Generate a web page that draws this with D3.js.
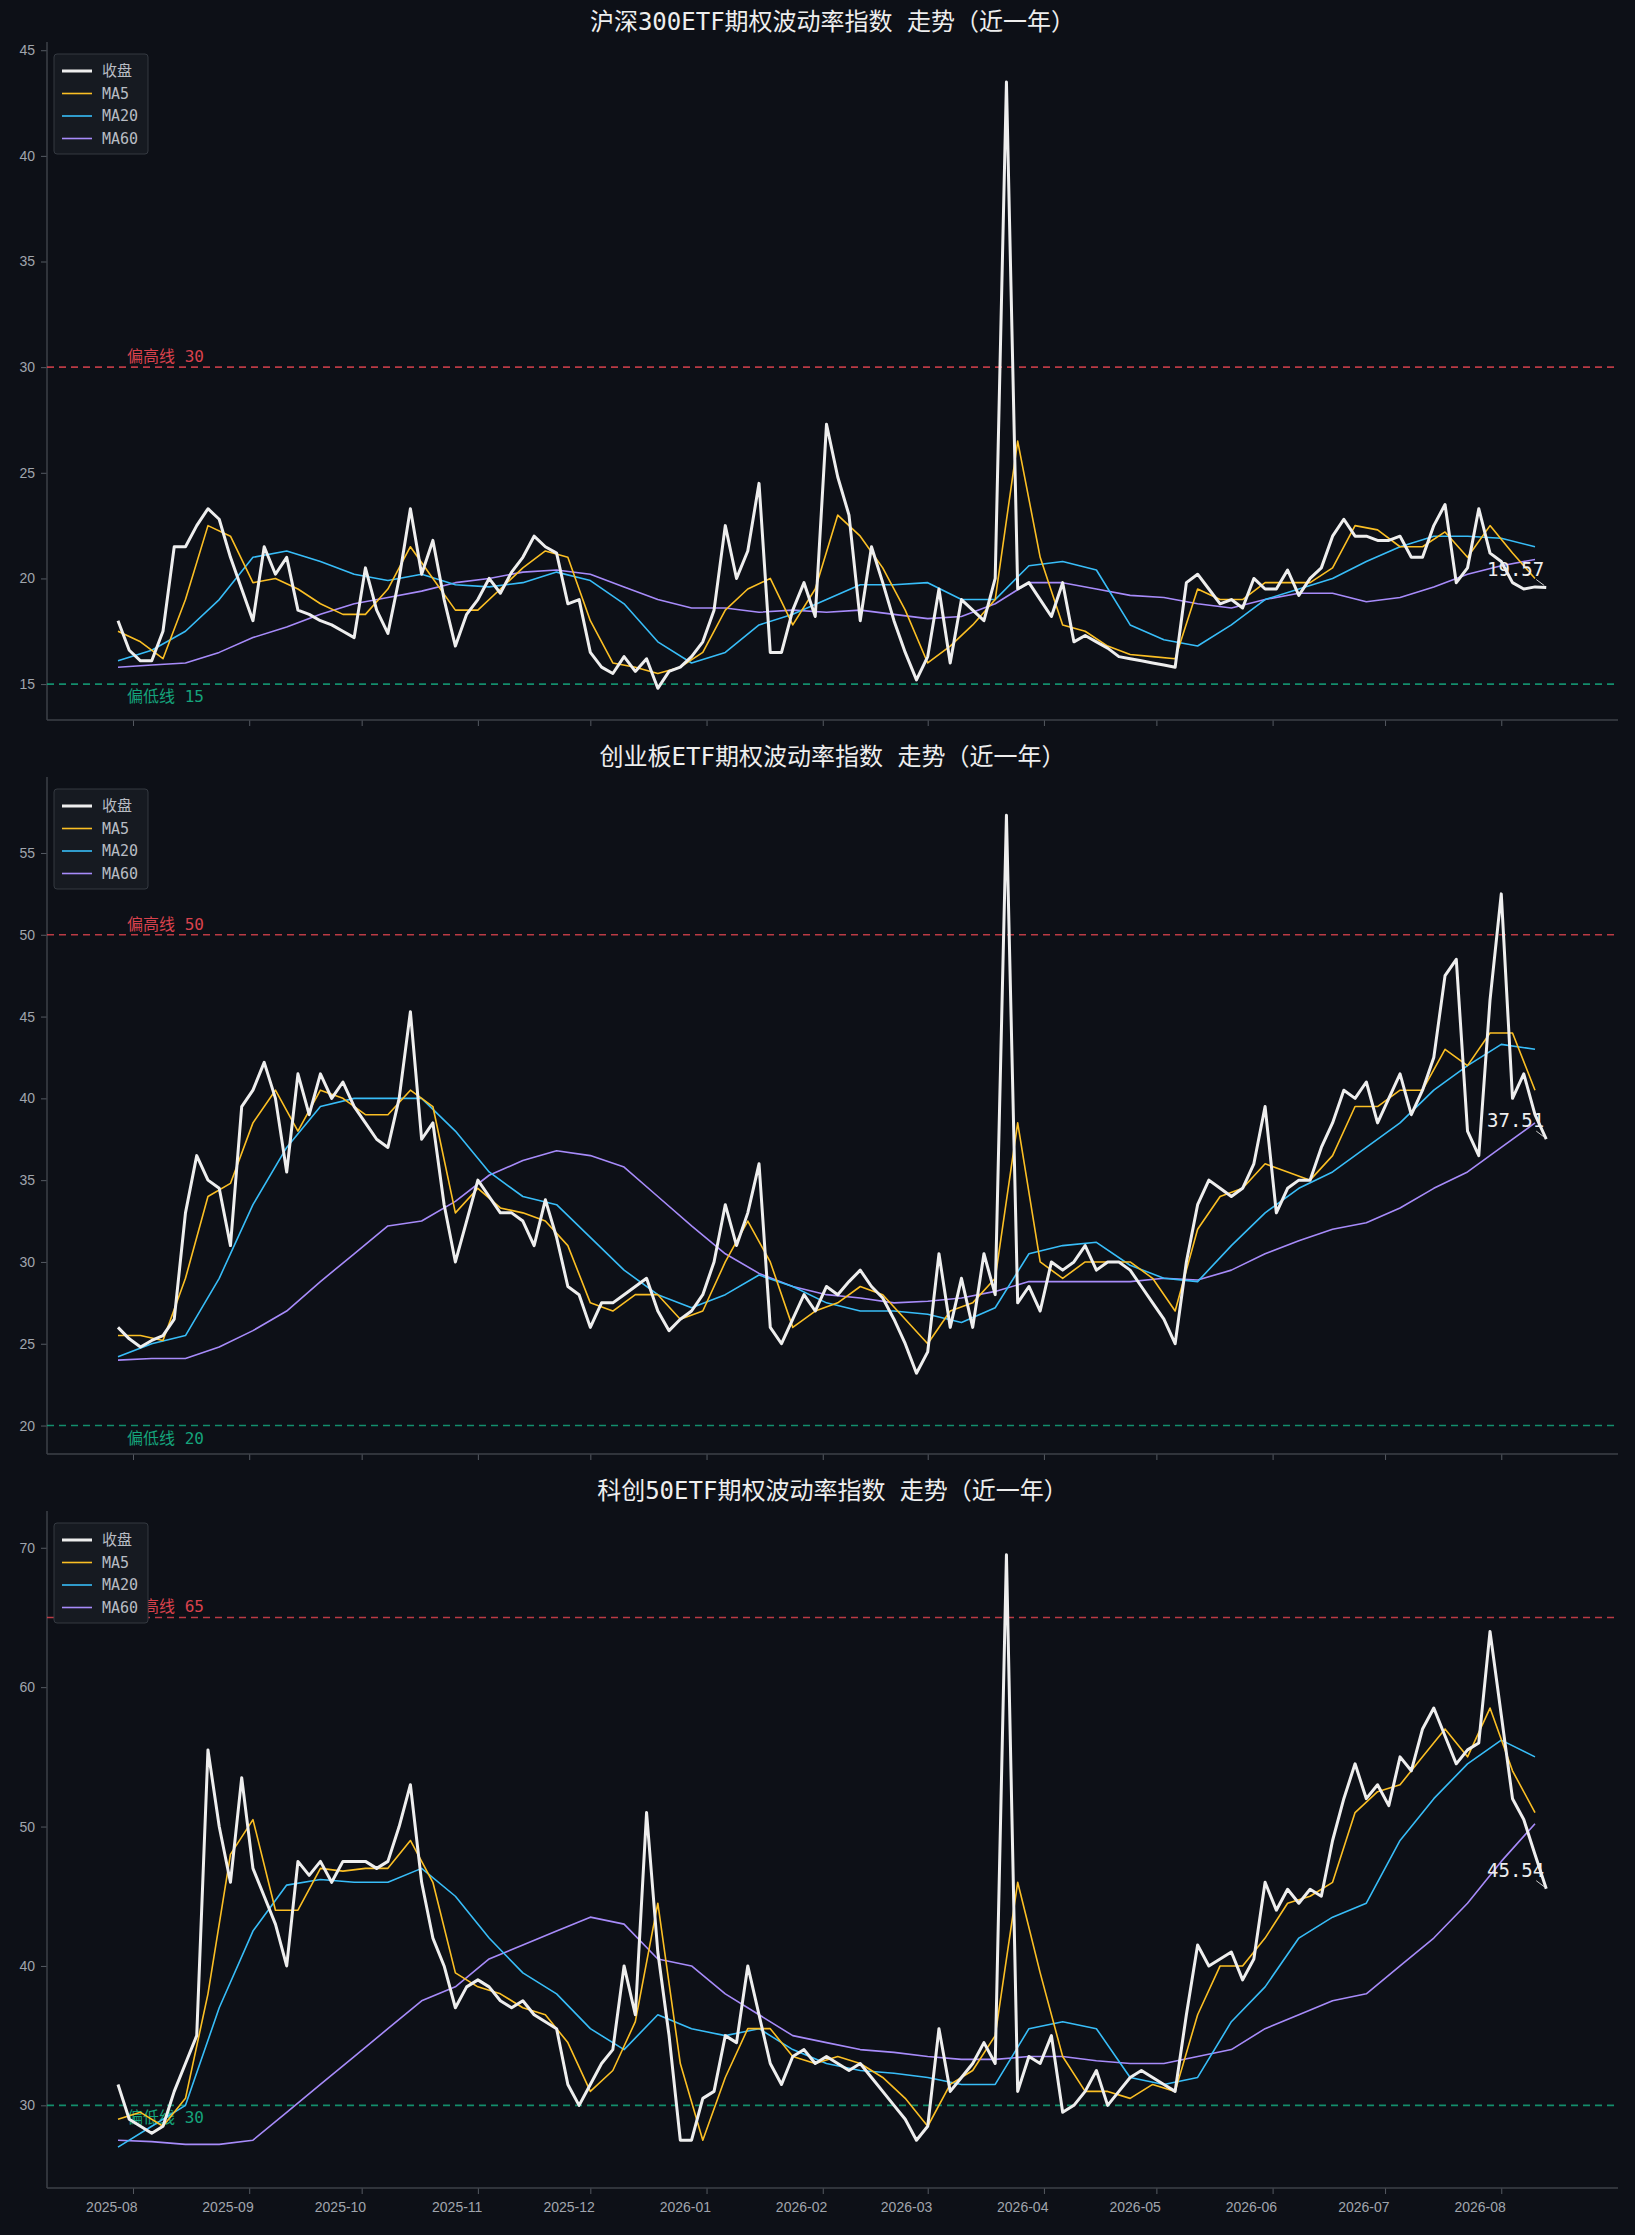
<!DOCTYPE html>
<html><head><meta charset="utf-8">
<script src="https://cdn.jsdelivr.net/npm/d3@7"></script>
<style>
body{margin:0;background:#0d1017;}
svg{display:block;font-family:"DejaVu Sans Mono","Noto Sans CJK SC",monospace;}
</style></head><body>
<svg id="chart"></svg>
<script>
// sampling grids: close every 3 days, MA5 every 6, MA20/MA60 every 9
const startDate = new Date(2025, 6, 28);
const endDate = new Date(2026, 7, 14);

const titles = ["沪深300ETF期权波动率指数 走势（近一年）", "创业板ETF期权波动率指数 走势（近一年）", "科创50ETF期权波动率指数 走势（近一年）"];
const highLines = [30, 50, 65];
const lowLines = [15, 20, 30];
const lastLabels = ["19.57", "37.51", "45.54"];
const yDomains = [[13.3, 45.2], [18.26, 59.4], [24.07, 72.35]];
const yTicks = [[15, 20, 25, 30, 35, 40, 45], [20, 25, 30, 35, 40, 45, 50, 55], [30, 40, 50, 60, 70]];

const close300 = [18.0,16.6,16.1,16.1,17.5,21.5,21.5,22.5,23.3,22.8,21.0,19.5,18.0,21.5,20.2,21.0,18.5,18.3,18.0,17.8,17.5,17.2,20.5,18.5,17.4,20.0,23.3,20.2,21.8,19.0,16.8,18.3,19.0,20.0,19.3,20.3,21.0,22.0,21.5,21.2,18.8,19.0,16.5,15.8,15.5,16.3,15.6,16.2,14.8,15.6,15.8,16.3,17.0,18.5,22.5,20.0,21.3,24.5,16.5,16.5,18.5,19.8,18.2,27.3,24.8,23.0,18.0,21.5,19.8,18.0,16.5,15.2,16.3,19.5,16.0,19.0,18.5,18.0,20.0,43.5,19.5,19.8,19.0,18.2,19.8,17.0,17.3,17.0,16.7,16.3,16.2,16.1,16.0,15.9,15.8,19.8,20.2,19.5,18.8,19.0,18.6,20.0,19.5,19.5,20.4,19.2,20.0,20.5,22.0,22.8,22.0,22.0,21.8,21.8,22.0,21.0,21.0,22.5,23.5,19.8,20.5,23.3,21.2,20.8,19.8,19.5,19.6,19.57];
const ma5_300 = [17.5,17.0,16.2,19.0,22.5,22.0,19.8,20.0,19.5,18.8,18.3,18.3,19.5,21.5,20.0,18.5,18.5,19.5,20.5,21.3,21.0,18.0,16.0,15.8,15.5,15.8,16.5,18.5,19.5,20.0,17.8,19.5,23.0,22.0,20.5,18.5,16.0,16.8,17.8,19.0,26.5,21.0,17.8,17.5,16.8,16.4,16.3,16.2,19.5,19.0,19.0,19.8,19.8,19.8,20.5,22.5,22.3,21.5,21.5,22.2,21.0,22.5,21.2,20.0];
const ma20_300 = [16.1,16.6,17.5,19.0,21.0,21.3,20.8,20.2,19.9,20.2,19.7,19.6,19.8,20.3,19.9,18.8,17.0,16.0,16.5,17.8,18.3,19.0,19.7,19.7,19.8,19.0,19.0,20.6,20.8,20.4,17.8,17.1,16.8,17.8,19.0,19.5,20.0,20.8,21.5,22.0,22.0,21.9,21.5];
const ma60_300 = [15.8,15.9,16.0,16.5,17.2,17.7,18.3,18.8,19.1,19.4,19.8,20.0,20.3,20.4,20.2,19.6,19.0,18.6,18.6,18.4,18.5,18.4,18.5,18.3,18.1,18.2,18.8,19.8,19.8,19.5,19.2,19.1,18.8,18.6,19.0,19.3,19.3,18.9,19.1,19.6,20.2,20.6,20.9];

const closeCyb = [26.0,25.3,24.8,25.2,25.5,26.5,33.0,36.5,35.0,34.5,31.0,39.5,40.5,42.2,40.0,35.5,41.5,39.0,41.5,40.0,41.0,39.5,38.5,37.5,37.0,40.0,45.3,37.5,38.5,33.5,30.0,32.5,35.0,34.0,33.0,33.0,32.5,31.0,33.8,31.5,28.5,28.0,26.0,27.5,27.5,28.0,28.5,29.0,27.0,25.8,26.5,27.0,28.0,30.0,33.5,31.0,33.0,36.0,26.0,25.0,26.5,28.0,27.0,28.5,28.0,28.8,29.5,28.5,27.8,26.5,25.0,23.2,24.5,30.5,26.0,29.0,26.0,30.5,28.0,57.3,27.5,28.5,27.0,30.0,29.5,30.0,31.0,29.5,30.0,30.0,29.5,28.5,27.5,26.5,25.0,30.0,33.5,35.0,34.5,34.0,34.5,36.0,39.5,33.0,34.5,35.0,35.0,37.0,38.5,40.5,40.0,41.0,38.5,40.0,41.5,39.0,40.5,42.5,47.5,48.5,38.0,36.5,46.0,52.5,40.0,41.5,39.0,37.51];
const ma5Cyb = [25.5,25.5,25.2,29.0,34.0,34.8,38.5,40.5,38.0,40.5,40.0,39.0,39.0,40.5,39.5,33.0,34.5,33.3,33.0,32.5,31.0,27.5,27.0,28.0,28.0,26.5,27.0,30.0,32.5,30.0,26.0,27.0,27.5,28.5,28.0,26.5,25.0,27.0,27.5,29.0,38.5,30.0,29.0,30.0,30.0,30.0,29.0,27.0,32.0,34.0,34.5,36.0,35.5,35.0,36.5,39.5,39.5,40.5,40.5,43.0,42.0,44.0,44.0,40.5];
const ma20Cyb = [24.2,25.0,25.5,29.0,33.5,37.0,39.5,40.0,40.0,40.0,38.0,35.5,34.0,33.5,31.5,29.5,28.0,27.2,28.0,29.2,28.5,27.5,27.0,27.0,26.8,26.3,27.2,30.5,31.0,31.2,29.8,29.0,28.8,31.0,33.0,34.5,35.5,37.0,38.5,40.5,42.0,43.3,43.0];
const ma60Cyb = [24.0,24.1,24.1,24.8,25.8,27.0,28.8,30.5,32.2,32.5,33.7,35.3,36.2,36.8,36.5,35.8,34.0,32.2,30.5,29.3,28.5,28.0,27.8,27.5,27.6,27.8,28.2,28.8,28.8,28.8,28.8,29.0,28.9,29.5,30.5,31.3,32.0,32.4,33.3,34.5,35.5,37.0,38.5];

const closeKc = [31.5,29.0,28.5,28.0,28.5,31.0,33.0,35.0,55.5,50.0,46.0,53.5,47.0,45.0,43.0,40.0,47.5,46.5,47.5,46.0,47.5,47.5,47.5,47.0,47.5,50.0,53.0,46.0,42.0,40.0,37.0,38.5,39.0,38.5,37.5,37.0,37.5,36.5,36.0,35.5,31.5,30.0,31.5,33.0,34.0,40.0,36.5,51.0,41.0,35.0,27.5,27.5,30.5,31.0,35.0,34.5,40.0,36.5,33.0,31.5,33.5,34.0,33.0,33.5,33.0,32.5,33.0,32.0,31.0,30.0,29.0,27.5,28.5,35.5,31.0,32.0,33.0,34.5,33.0,69.5,31.0,33.5,33.0,35.0,29.5,30.0,31.0,32.5,30.0,31.0,32.0,32.5,32.0,31.5,31.0,36.5,41.5,40.0,40.5,41.0,39.0,40.5,46.0,44.0,45.5,44.5,45.5,45.0,49.0,52.0,54.5,52.0,53.0,51.5,55.0,54.0,57.0,58.5,56.5,54.5,55.5,56.0,64.0,58.0,52.0,50.5,48.0,45.54];
const ma5Kc = [29.0,29.5,28.5,30.5,38.0,48.0,50.5,44.0,44.0,47.0,46.8,47.0,47.0,49.0,46.0,39.5,38.5,38.0,37.0,36.5,34.5,31.0,32.5,36.0,44.5,33.0,27.5,32.0,35.5,35.5,33.5,33.0,33.5,33.0,32.0,30.5,28.5,31.5,32.5,35.0,46.0,39.5,33.5,31.0,31.0,30.5,31.5,31.0,36.5,40.0,40.0,42.0,44.5,45.0,46.0,51.0,52.5,53.0,55.0,57.0,55.0,58.5,54.0,51.0];
const ma20Kc = [27.0,28.5,30.0,37.0,42.5,45.8,46.2,46.0,46.0,47.0,45.0,42.0,39.5,38.0,35.5,34.0,36.5,35.5,35.0,35.5,34.0,33.0,32.5,32.3,32.0,31.5,31.5,35.5,36.0,35.5,32.0,31.5,32.0,36.0,38.5,42.0,43.5,44.5,49.0,52.0,54.5,56.2,55.0];
const ma60Kc = [27.5,27.4,27.2,27.2,27.5,29.5,31.5,33.5,35.5,37.5,38.5,40.5,41.5,42.5,43.5,43.0,40.5,40.0,38.0,36.5,35.0,34.5,34.0,33.8,33.5,33.3,33.3,33.5,33.5,33.2,33.0,33.0,33.5,34.0,35.5,36.5,37.5,38.0,40.0,42.0,44.5,47.5,50.2];

const panels = [
  {close: close300, ma5: ma5_300, ma20: ma20_300, ma60: ma60_300},
  {close: closeCyb, ma5: ma5Cyb, ma20: ma20Cyb, ma60: ma60Cyb},
  {close: closeKc, ma5: ma5Kc, ma20: ma20Kc, ma60: ma60Kc}
];

const W = 1635, H = 2235;
const colors = {close: "#eeeeee", ma5: "#fbbf24", ma20: "#38bdf8", ma60: "#a78bfa"};
const seriesSpec = [
  {key: "close", label: "收盘", step: 3, width: 3},
  {key: "ma5", label: "MA5", step: 6, width: 1.6},
  {key: "ma20", label: "MA20", step: 9, width: 1.6},
  {key: "ma60", label: "MA60", step: 9, width: 1.6}
];
const panelBox = [{top: 46, bottom: 720}, {top: 781, bottom: 1454}, {top: 1515, bottom: 2188}];
const left = 47, right = 1618;

const svg = d3.select("#chart").attr("width", W).attr("height", H);
svg.append("rect").attr("width", W).attr("height", H).attr("fill", "#0d1017");

const x = d3.scaleTime().domain([startDate, endDate]).range([118, 1550]);
const monthTicks = d3.timeMonth.range(d3.timeMonth.ceil(x.invert(left)), endDate);
const dateGrid = step => {
  const arr = [];
  for (let d = new Date(startDate); d <= endDate; d = d3.timeDay.offset(d, step)) arr.push(d);
  return arr;
};

panels.forEach((p, i) => {
  const box = panelBox[i];
  const y = d3.scaleLinear().domain(yDomains[i]).range([box.bottom, box.top]);
  const g = svg.append("g");

  g.append("text").attr("x", (left + right) / 2).attr("y", box.top - 16)
    .attr("text-anchor", "middle").attr("fill", "#eeeeee").attr("font-size", 24)
    .text(titles[i]);

  // axes
  const ya = g.append("g").attr("transform", `translate(${left},0)`)
    .call(d3.axisLeft(y).tickValues(yTicks[i]).tickSize(6).tickPadding(6));
  const xa = g.append("g").attr("transform", `translate(0,${box.bottom})`)
    .call(d3.axisBottom(x).tickValues(monthTicks).tickFormat(i === 2 ? d3.timeFormat("%Y-%m") : "").tickSize(6).tickPadding(8));
  xa.selectAll("text").attr("text-anchor", "end").attr("dx", 4);
  [ya, xa].forEach(a => {
    a.select(".domain").remove();
    a.selectAll("line").attr("stroke", "#555a62");
    a.selectAll("text").attr("fill", "#a0a5ad").attr("font-size", 14);
  });
  g.append("line").attr("x1", left).attr("x2", left).attr("y1", box.top - 4).attr("y2", box.bottom).attr("stroke", "#3c4149").attr("stroke-width", 1.5);
  g.append("line").attr("x1", left).attr("x2", right).attr("y1", box.bottom).attr("y2", box.bottom).attr("stroke", "#3c4149").attr("stroke-width", 1.5);

  // reference lines
  [[highLines[i], "#d9424d", "偏高线 ", -5], [lowLines[i], "#15a37b", "偏低线 ", 18]].forEach(([v, c, t, dy]) => {
    g.append("line").attr("x1", left).attr("x2", right).attr("y1", y(v)).attr("y2", y(v))
      .attr("stroke", c).attr("stroke-width", 1.6).attr("stroke-dasharray", "7,5").attr("opacity", 0.85);
    g.append("text").attr("x", 127).attr("y", y(v) + dy).attr("fill", c).attr("font-size", 16).text(t + v);
  });

  // series
  seriesSpec.slice().reverse().forEach(s => {
    const dates = dateGrid(s.step);
    const vals = p[s.key];
    const pts = vals.map((v, k) => [dates[k], v]);
    g.append("path").datum(pts)
      .attr("fill", "none").attr("stroke", colors[s.key]).attr("stroke-width", s.width)
      .attr("stroke-linejoin", "round")
      .attr("d", d3.line().x(d => x(d[0])).y(d => y(d[1])));
  });

  // last value annotation
  const cd = dateGrid(3);
  const lv = p.close[p.close.length - 1];
  const lx = x(cd[p.close.length - 1]), ly = y(lv);
  g.append("text").attr("x", lx - 2).attr("y", ly - 12).attr("text-anchor", "end")
    .attr("fill", "#eeeeee").attr("font-size", 19).text(lastLabels[i]);
  g.append("line").attr("x1", lx - 10).attr("y1", ly - 8).attr("x2", lx - 2).attr("y2", ly - 2)
    .attr("stroke", "#cccccc").attr("stroke-width", 1);

  // legend
  const lg = g.append("g").attr("transform", `translate(54,${box.top + 8})`);
  lg.append("rect").attr("width", 94).attr("height", 100).attr("rx", 3)
    .attr("fill", "#161a21").attr("stroke", "#343941");
  seriesSpec.forEach((s, k) => {
    const yy = 17 + k * 22.5;
    lg.append("line").attr("x1", 8).attr("x2", 38).attr("y1", yy).attr("y2", yy)
      .attr("stroke", colors[s.key]).attr("stroke-width", s.width);
    lg.append("text").attr("x", 48).attr("y", yy + 5).attr("fill", "#b8bcc3").attr("font-size", 15).text(s.label);
  });
});
</script>
</body></html>
